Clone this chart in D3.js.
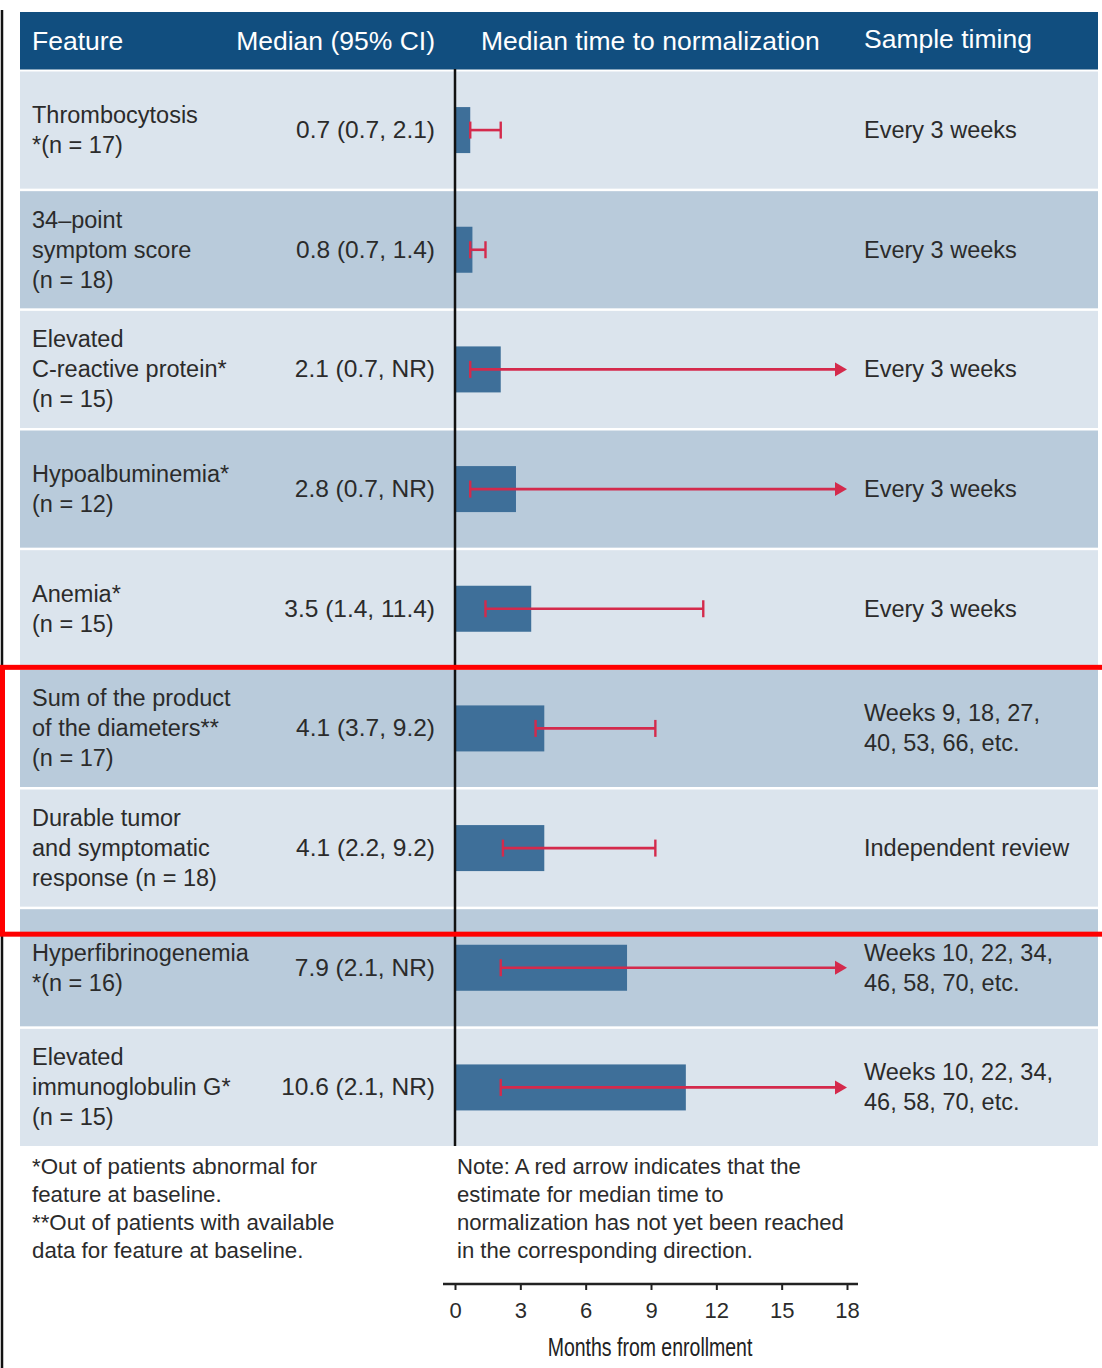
<!DOCTYPE html>
<html>
<head>
<meta charset="utf-8">
<script src="https://cdn.jsdelivr.net/npm/d3@7"></script>
<style>
  html, body { margin: 0; padding: 0; background: #fff; }
  svg { display: block; }
  text { font-family: "Liberation Sans", Arial, Helvetica, sans-serif; }
</style>
</head>
<body>
<svg id="chart" width="1102" height="1368"></svg>
<script>
// ---- data ----
const featureLabels = [
  ["Thrombocytosis", "*(n = 17)"],
  ["34\u2013point", "symptom score", "(n = 18)"],
  ["Elevated", "C-reactive protein*", "(n = 15)"],
  ["Hypoalbuminemia*", "(n = 12)"],
  ["Anemia*", "(n = 15)"],
  ["Sum of the product", "of the diameters**", "(n = 17)"],
  ["Durable tumor", "and symptomatic", "response (n = 18)"],
  ["Hyperfibrinogenemia", "*(n = 16)"],
  ["Elevated", "immunoglobulin G*", "(n = 15)"]
];
const medians = [0.7, 0.8, 2.1, 2.8, 3.5, 4.1, 4.1, 7.9, 10.6];
const ciLow   = [0.7, 0.7, 0.7, 0.7, 1.4, 3.7, 2.2, 2.1, 2.1];
// null = not reached (NR)
const ciHigh  = [2.1, 1.4, null, null, 11.4, 9.2, 9.2, null, null];
const sampleTiming = [
  ["Every 3 weeks"],
  ["Every 3 weeks"],
  ["Every 3 weeks"],
  ["Every 3 weeks"],
  ["Every 3 weeks"],
  ["Weeks 9, 18, 27,", "40, 53, 66, etc."],
  ["Independent review"],
  ["Weeks 10, 22, 34,", "46, 58, 70, etc."],
  ["Weeks 10, 22, 34,", "46, 58, 70, etc."]
];
const headerLabels = ["Feature", "Median (95% CI)", "Median time to normalization", "Sample timing"];
const tickValues = [0, 3, 6, 9, 12, 15, 18];
const axisTitle = "Months from enrollment";
const footnotes = [
  "*Out of patients abnormal for",
  "feature at baseline.",
  "**Out of patients with available",
  "data for feature at baseline."
];
const noteLines = [
  "Note: A red arrow indicates that the",
  "estimate for median time to",
  "normalization has not yet been reached",
  "in the corresponding direction."
];
// rows 6-7 are outlined
const highlightedRows = [5, 6];

// ---- style ----
const C = {
  header: "#114e7f",
  light: "#dbe4ed",
  dark: "#b9cbdb",
  bar: "#3e6f99",
  ci: "#d42a4c",
  text: "#2b2b2b",
  highlight: "#ff0000"
};
const bodySize = 23.5;

const svg = d3.select("#chart");
const rows = d3.range(featureLabels.length);

const tableLeft = 20, tableRight = 1098;
const x = d3.scaleLinear().domain([0, 18]).range([455, 847]);
const y = d3.scaleBand().domain(rows).range([71.5, 1146]).paddingInner(0.021);

// left frame rule
svg.append("line")
  .attr("x1", 2).attr("x2", 2).attr("y1", 10).attr("y2", 1368)
  .attr("stroke", "#111").attr("stroke-width", 2.5);

// header
svg.append("rect")
  .attr("x", tableLeft).attr("y", 12)
  .attr("width", tableRight - tableLeft).attr("height", 57.5)
  .attr("fill", C.header);

const headerPos = [
  { x: 32, anchor: "start", y: 50 },
  { x: 435, anchor: "end", y: 50 },
  { x: 481, anchor: "start", y: 50 },
  { x: 864, anchor: "start", y: 48 }
];
svg.append("g").selectAll("text")
  .data(headerLabels)
  .join("text")
  .attr("x", (d, i) => headerPos[i].x)
  .attr("y", (d, i) => headerPos[i].y)
  .attr("text-anchor", (d, i) => headerPos[i].anchor)
  .attr("fill", "#fff")
  .attr("font-size", 26.5)
  .text(d => d);

// row bands
svg.append("g").selectAll("rect")
  .data(rows)
  .join("rect")
  .attr("x", tableLeft)
  .attr("width", tableRight - tableLeft)
  .attr("y", d => y(d))
  .attr("height", y.bandwidth())
  .attr("fill", d => d % 2 === 0 ? C.light : C.dark);

const cy = i => y(i) + y.bandwidth() / 2;
const lineGap = 30;

// feature labels
const featG = svg.append("g");
rows.forEach(i => {
  const lines = featureLabels[i];
  const t = featG.append("text")
    .attr("font-size", bodySize)
    .attr("fill", C.text);
  lines.forEach((ln, k) => {
    t.append("tspan")
      .attr("x", 32)
      .attr("y", cy(i) + (k - (lines.length - 1) / 2) * lineGap + 8)
      .text(ln);
  });
});

// median (95% CI) labels
const fmt = v => v == null ? "NR" : v.toFixed(1);
svg.append("g").selectAll("text")
  .data(rows)
  .join("text")
  .attr("x", 435)
  .attr("y", i => cy(i) + 8)
  .attr("text-anchor", "end")
  .attr("font-size", 24.5)
  .attr("fill", C.text)
  .text(i => `${fmt(medians[i])} (${fmt(ciLow[i])}, ${fmt(ciHigh[i])})`);

// sample timing
const timG = svg.append("g");
rows.forEach(i => {
  const lines = sampleTiming[i];
  const t = timG.append("text")
    .attr("font-size", bodySize)
    .attr("fill", C.text);
  lines.forEach((ln, k) => {
    t.append("tspan")
      .attr("x", 864)
      .attr("y", cy(i) + (k - (lines.length - 1) / 2) * lineGap + 8)
      .text(ln);
  });
});

// median bars
const barH = 46;
svg.append("g").selectAll("rect")
  .data(rows)
  .join("rect")
  .attr("x", x(0))
  .attr("y", i => cy(i) - barH / 2)
  .attr("width", i => x(medians[i]) - x(0))
  .attr("height", barH)
  .attr("fill", C.bar);

// confidence intervals: capped whiskers, arrow where upper limit not reached
const capH = 17, headLen = 12, headHalf = 7;
const ciG = svg.append("g").attr("stroke", C.ci).attr("fill", C.ci);
rows.forEach(i => {
  const yc = cy(i);
  const x0 = x(ciLow[i]);
  const reached = ciHigh[i] != null;
  const x1 = reached ? x(ciHigh[i]) : x(x.domain()[1]);
  ciG.append("line")
    .attr("x1", x0).attr("x2", reached ? x1 : x1 - headLen + 1)
    .attr("y1", yc).attr("y2", yc)
    .attr("stroke-width", 2.6);
  ciG.append("line")
    .attr("x1", x0).attr("x2", x0)
    .attr("y1", yc - capH / 2).attr("y2", yc + capH / 2)
    .attr("stroke-width", 2.4);
  if (reached) {
    ciG.append("line")
      .attr("x1", x1).attr("x2", x1)
      .attr("y1", yc - capH / 2).attr("y2", yc + capH / 2)
      .attr("stroke-width", 2.4);
  } else {
    ciG.append("path")
      .attr("stroke", "none")
      .attr("d", `M${x1},${yc} L${x1 - headLen},${yc - headHalf} L${x1 - headLen},${yc + headHalf} Z`);
  }
});

// zero reference line through the table
svg.append("line")
  .attr("x1", x(0)).attr("x2", x(0))
  .attr("y1", 69).attr("y2", 1146)
  .attr("stroke", "#111").attr("stroke-width", 2.5);

// footnotes
svg.append("g").selectAll("text")
  .data(footnotes)
  .join("text")
  .attr("x", 32)
  .attr("y", (d, i) => 1174 + i * 28)
  .attr("font-size", 22.3)
  .attr("fill", C.text)
  .text(d => d);

svg.append("g").selectAll("text")
  .data(noteLines)
  .join("text")
  .attr("x", 457)
  .attr("y", (d, i) => 1174 + i * 28)
  .attr("font-size", 22.1)
  .attr("fill", C.text)
  .text(d => d);

// x axis
const axisY = 1284;
const axisG = svg.append("g")
  .attr("transform", `translate(0,${axisY})`)
  .call(d3.axisBottom(x).tickValues(tickValues).tickSizeInner(6).tickSizeOuter(0).tickPadding(12));
axisG.select(".domain").remove();
axisG.selectAll(".tick line").attr("stroke", "#222").attr("stroke-width", 2);
axisG.selectAll(".tick text")
  .attr("font-family", "'Liberation Sans', Arial, sans-serif")
  .attr("font-size", 22)
  .attr("fill", C.text);
axisG.append("line")
  .attr("x1", x(0) - 12).attr("x2", x(18) + 11)
  .attr("y1", 0).attr("y2", 0)
  .attr("stroke", "#222").attr("stroke-width", 2.5);

// axis title, horizontally condensed
const squeeze = 0.75;
const titleX = (x(0) + x(18)) / 2 - 1;
svg.append("text")
  .attr("transform", `translate(${titleX},1356) scale(${squeeze},1)`)
  .attr("text-anchor", "middle")
  .attr("font-size", 26)
  .attr("fill", "#222")
  .text(axisTitle);

// outline around the highlighted rows
const hTop = y(highlightedRows[0]) - 2.5;
const hBot = y(highlightedRows[highlightedRows.length - 1]) + y.step() + 25;
svg.append("rect")
  .attr("x", 2.5).attr("y", hTop)
  .attr("width", 1110).attr("height", hBot - hTop)
  .attr("fill", "none")
  .attr("stroke", C.highlight)
  .attr("stroke-width", 5);
</script>
</body>
</html>
